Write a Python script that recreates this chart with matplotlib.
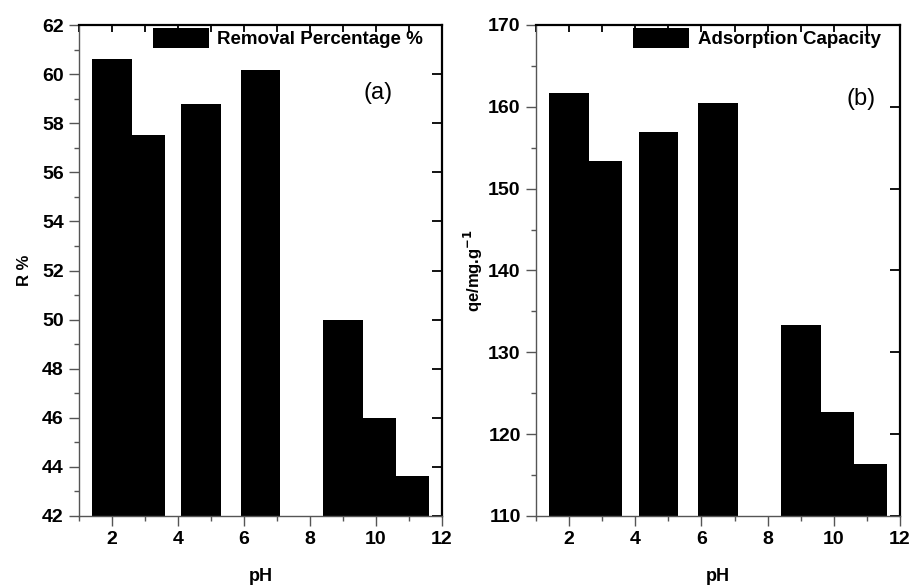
import matplotlib
matplotlib.use("Agg")
import matplotlib.pyplot as plt
from matplotlib.ticker import MultipleLocator

plt.rcParams['font.family'] = ['Liberation Sans', 'DejaVu Sans']

ph = [2, 3, 4.7, 6.5, 9, 10, 11]
removal = [60.61, 57.50, 58.80, 60.15, 50.0, 46.0, 43.63]
capacity = [161.67, 153.37, 156.91, 160.45, 133.38, 122.68, 116.34]

fig = plt.figure(figsize=(9.13, 5.87), dpi=100)
W, H = 913, 587


def make_ax(left_px, right_px):
    return fig.add_axes([left_px / W, (H - 516) / H, (right_px - left_px) / W, (516 - 25) / H])


def style(ax, ylim, ymaj, ymin, ylabel, ylabelpad, leg_x, tag, tag_xy):
    ax.set_xlim(1, 12)
    ax.set_ylim(ylim[0], ylim[1])
    ax.xaxis.set_major_locator(MultipleLocator(2))
    ax.xaxis.set_minor_locator(MultipleLocator(1))
    ax.yaxis.set_major_locator(MultipleLocator(ymaj))
    ax.yaxis.set_minor_locator(MultipleLocator(ymin))
    for s in ['left', 'bottom']:
        ax.spines[s].set_color('#555555')
        ax.spines[s].set_linewidth(1.0)
    for s in ['top', 'right']:
        ax.spines[s].set_color('black')
        ax.spines[s].set_linewidth(1.6)
    ax.tick_params(axis='both', which='major', direction='out', length=7.5, width=1.0,
                   color='#555555', labelsize=14, pad=3.5)
    ax.tick_params(axis='both', which='minor', direction='out', length=3.6, width=1.0,
                   color='#555555')
    for lab in ax.get_xticklabels() + ax.get_yticklabels():
        lab.set_fontweight('bold')
    axt = ax.secondary_xaxis('top')
    axt.set_xticks(range(1, 13))
    axt.tick_params(direction='in', length=5, width=1.3, color='black', labeltop=False)
    axt.spines['top'].set_visible(False)
    axr = ax.secondary_yaxis('right')
    axr.yaxis.set_major_locator(MultipleLocator(ymaj))
    axr.tick_params(direction='in', length=7, width=1.3, color='black', labelright=False)
    axr.spines['right'].set_visible(False)
    ax.set_xlabel('pH', fontsize=13, fontweight='bold', labelpad=14)
    ax.set_ylabel(ylabel, fontsize=12, fontweight='bold', labelpad=ylabelpad)
    ax.legend(frameon=False, loc='upper left', bbox_to_anchor=(leg_x, 1 - 3 / 491),
              borderaxespad=0, borderpad=0, handlelength=3.0, handleheight=1.3,
              handletextpad=0.45, prop={'size': 13.5, 'weight': 'bold'})
    ax.text(tag_xy[0], tag_xy[1], tag, transform=ax.transAxes, fontsize=17,
            ha='center', va='center')


ax1 = make_ax(79, 442)
ax1.bar(ph, removal, width=1.2, color='black', edgecolor='black',
        linewidth=0, label='Removal Percentage %')
style(ax1, (42, 62), 2, 1, 'R %', 7, 0.203, '(a)', (0.824, 0.861))

ax2 = make_ax(536, 900)
ax2.bar(ph, capacity, width=1.2, color='black', edgecolor='black',
        linewidth=0, label='Adsorption Capacity')
style(ax2, (110, 170), 10, 5, 'qe/mg.g$^{\\mathbf{-1}}$', 2, 0.267, '(b)', (0.892, 0.849))

fig.savefig('out.png', dpi=100)
